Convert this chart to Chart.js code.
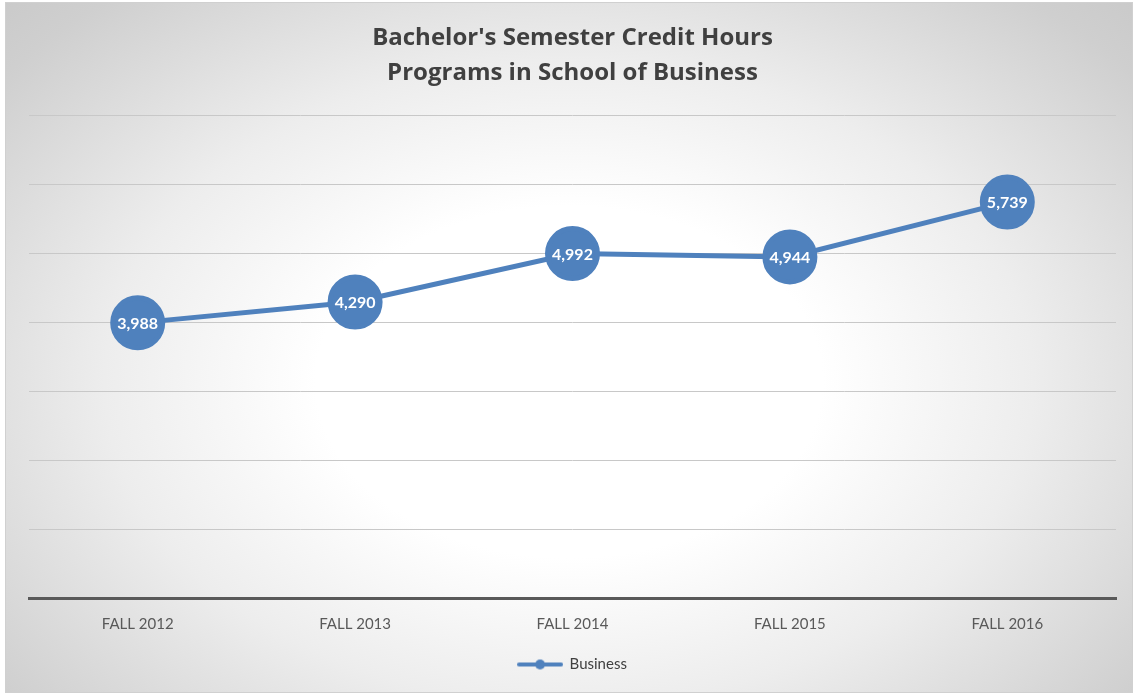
<!DOCTYPE html>
<html>
<head>
<meta charset="utf-8">
<script src="https://cdn.jsdelivr.net/npm/chart.js@4/dist/chart.umd.min.js"></script>
<style>
  html, body { margin: 0; padding: 0; width: 1135px; height: 695px; overflow: hidden; background: #fff; }
  #bg { position: absolute; left: 5px; top: 2px; width: 1126px; height: 689px;
        border: 1px solid #d0d0d0;
        background: radial-gradient(ellipse 75% 85% at 50% 55%, #ffffff 0%, #ffffff 30%, #ededed 55%, #cfcfcf 85%, #c6c6c6 100%); }
  #c { position: absolute; left: 0; top: 0; }
</style>
</head>
<body>
<div id="bg"></div>
<canvas id="c" width="1135" height="695"></canvas>
<script>
const categories = ['FALL 2012', 'FALL 2013', 'FALL 2014', 'FALL 2015', 'FALL 2016'];
const businessValues = [3988, 4290, 4992, 4944, 5739];
const seriesName = 'Business';
const titleLines = ["Bachelor's Semester Credit Hours", 'Programs in School of Business'];
const yMin = 0, yMax = 7000, yStep = 1000;

const BLUE = '#4f81bd';
const FONT = 'Lato, "Open Sans", sans-serif';
const TITLE_FONT = '"Open Sans", Lato, sans-serif';

// legend symbol: line with circle marker
const sym = document.createElement('canvas');
sym.width = 46; sym.height = 14;
(function () {
  const g = sym.getContext('2d');
  g.strokeStyle = BLUE; g.lineWidth = 4; g.lineCap = 'round';
  g.beginPath(); g.moveTo(2, 7); g.lineTo(44, 7); g.stroke();
  g.fillStyle = BLUE; g.beginPath(); g.arc(23, 7, 5, 0, Math.PI * 2); g.fill();
})();

const labelPlugin = {
  id: 'valueLabels',
  afterDatasetsDraw(chart) {
    const ctx = chart.ctx;
    chart.data.datasets.forEach((ds, i) => {
      const meta = chart.getDatasetMeta(i);
      meta.data.forEach((pt, j) => {
        ctx.save();
        ctx.fillStyle = '#ffffff';
        ctx.font = 'bold 16px ' + FONT;
        ctx.textAlign = 'center';
        ctx.textBaseline = 'middle';
        ctx.fillText(ds.data[j].toLocaleString('en-US'), pt.x, pt.y + 1);
        ctx.restore();
      });
    });
  }
};

new Chart(document.getElementById('c'), {
  type: 'line',
  data: {
    labels: categories,
    datasets: [{
      label: seriesName,
      data: businessValues,
      borderColor: BLUE,
      backgroundColor: BLUE,
      borderWidth: 5,
      pointRadius: 25,
      pointHoverRadius: 25,
      pointBackgroundColor: BLUE,
      pointBorderColor: BLUE,
      tension: 0
    }]
  },
  options: {
    responsive: false,
    animation: false,
    layout: { autoPadding: false, padding: { left: 29, right: 19, top: 21, bottom: 13 } },
    plugins: {
      title: {
        display: true,
        text: titleLines,
        color: '#404040',
        font: { family: TITLE_FONT, size: 24, weight: 'bold', lineHeight: 1.46 },
        padding: { top: 0, bottom: 24 }
      },
      legend: {
        position: 'bottom',
        labels: {
          usePointStyle: true,
          pointStyleWidth: 44,
          color: '#404040',
          font: { family: FONT, size: 15 },
          padding: 7,
          generateLabels(chart) {
            return chart.data.datasets.map((ds, i) => ({
              text: ds.label, pointStyle: sym, fillStyle: BLUE, strokeStyle: BLUE,
              lineWidth: 0, datasetIndex: i, fontColor: '#404040'
            }));
          }
        }
      },
      tooltip: { enabled: false }
    },
    scales: {
      x: {
        offset: true,
        grid: { display: false, drawTicks: false, offset: true },
        border: { display: true, color: '#595959', width: 3 },
        ticks: { color: '#595959', font: { family: FONT, size: 15 }, padding: 17 }
      },
      y: {
        min: yMin, max: yMax,
        ticks: { display: false, stepSize: yStep },
        grid: { color: '#c8c8c8', lineWidth: 1, drawTicks: false },
        border: { display: false }
      }
    }
  },
  plugins: [labelPlugin]
});
</script>
</body>
</html>
